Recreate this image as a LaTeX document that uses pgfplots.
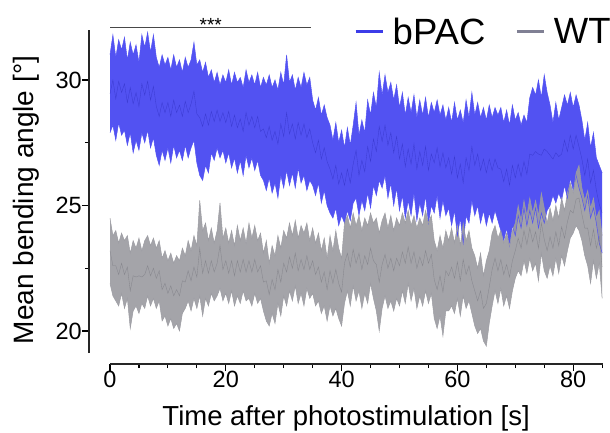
\documentclass[border=0pt]{standalone}
\usepackage{fontspec}
\setmainfont{Liberation Sans}
\usepackage{pgfplots}
\pgfplotsset{compat=1.18}
\usepgfplotslibrary{fillbetween}
\usepackage{pgfplotstable}

\definecolor{bpacband}{RGB}{82,82,242}
\definecolor{bpacmean}{RGB}{45,45,190}
\definecolor{wtband}{RGB}{156,156,162}
\definecolor{wtmean}{RGB}{115,115,122}
\definecolor{bpacleg}{RGB}{60,60,232}
\definecolor{wtleg}{RGB}{128,128,148}

% t, bPAC upper/lower, WT upper/lower (mean +- sem)
\pgfplotstableread{
t bu bl wu wl
0.0 31.0 27.9 24.5 21.9
0.5 31.8 28.2 23.8 21.4
1.0 30.9 27.6 24.0 21.2
1.5 31.6 28.3 23.5 21.0
2.0 31.2 27.8 23.9 21.5
2.5 31.7 28.0 23.6 20.9
3.0 30.8 27.4 23.8 21.3
3.5 31.5 27.9 23.1 20.1
4.0 31.0 27.1 23.6 20.8
4.5 31.4 27.6 23.3 21.0
5.0 30.7 27.2 23.7 20.7
5.5 31.8 27.9 23.2 21.1
6.0 31.3 27.5 23.6 20.9
6.5 31.9 28.0 23.8 21.4
7.0 31.1 27.3 23.4 21.0
7.5 31.8 27.7 23.7 21.3
8.0 30.9 27.0 23.3 20.9
8.5 30.5 26.6 23.6 21.2
9.0 31.0 27.2 22.9 20.4
9.5 30.6 26.8 23.2 20.6
10.0 30.9 27.3 22.8 20.2
10.5 30.4 26.7 23.1 20.5
11.0 31.0 27.4 22.7 20.1
11.5 30.5 26.9 23.0 20.3
12.0 30.8 27.2 22.8 20.0
12.5 30.3 26.8 23.3 20.7
13.0 30.9 27.4 23.0 20.9
13.5 30.5 26.9 23.6 21.2
14.0 30.8 27.3 23.2 20.8
14.5 31.5 27.6 23.8 21.3
15.0 30.6 26.7 23.4 20.9
15.5 30.8 26.2 25.2 21.4
16.0 30.3 26.0 24.0 20.6
16.5 30.7 26.6 24.3 21.3
17.0 30.1 26.3 23.6 21.0
17.5 30.4 27.1 24.1 21.5
18.0 29.9 26.8 23.5 21.2
18.5 30.3 27.3 24.0 21.4
19.0 29.8 26.9 25.1 21.7
19.5 30.2 27.2 23.7 21.2
20.0 29.9 26.7 24.1 21.5
20.5 30.4 27.1 23.5 21.1
21.0 29.8 26.5 24.0 21.6
21.5 30.3 26.9 23.4 21.0
22.0 29.9 26.3 24.2 21.4
22.5 30.1 26.8 23.6 21.1
23.0 29.7 26.2 24.1 21.6
23.5 30.4 27.0 23.5 21.2
24.0 29.9 26.5 24.3 21.3
24.5 30.2 26.9 23.7 21.0
25.0 29.8 26.4 24.2 21.5
25.5 30.3 26.8 23.6 21.1
26.0 29.7 26.2 23.9 21.3
26.5 30.1 26.0 23.1 20.8
27.0 29.8 25.6 23.6 20.4
27.5 30.2 26.1 22.7 20.2
28.0 29.7 25.5 23.4 20.7
28.5 30.0 25.9 23.0 20.3
29.0 29.6 25.3 23.8 21.1
29.5 30.3 26.2 23.3 20.6
30.0 29.8 25.7 24.0 21.4
30.5 31.0 26.4 23.7 21.0
31.0 29.9 25.8 24.3 21.6
31.5 30.2 26.3 23.8 21.2
32.0 29.6 25.7 24.4 21.8
32.5 30.1 26.5 23.7 21.1
33.0 29.7 25.9 24.2 21.5
33.5 30.3 26.2 23.9 21.0
34.0 29.8 25.6 24.3 21.7
34.5 30.1 26.0 23.6 21.3
35.0 29.2 25.8 24.1 21.5
35.5 28.8 25.4 23.5 21.0
36.0 29.3 25.9 23.9 21.2
36.5 28.6 25.1 23.2 20.7
37.0 29.0 25.6 23.7 21.0
37.5 28.5 25.0 22.9 20.4
38.0 28.2 24.7 23.8 21.0
38.5 27.6 24.5 23.2 20.6
39.0 28.3 24.9 24.0 20.9
39.5 27.5 24.2 23.3 20.5
40.0 28.0 24.6 22.9 20.2
40.5 27.3 24.3 24.3 21.1
41.0 28.1 24.8 24.6 21.6
41.5 27.4 24.4 24.1 21.0
42.0 28.2 25.1 24.7 21.8
42.5 29.1 25.3 24.2 21.2
43.0 27.8 24.6 24.6 21.6
43.5 28.4 25.2 24.0 20.9
44.0 27.9 24.8 24.5 21.5
44.5 29.2 25.5 24.2 21.1
45.0 28.6 24.9 24.7 21.9
45.5 29.5 25.8 24.3 21.3
46.0 28.9 25.4 24.5 20.8
46.5 30.3 26.0 23.9 20.0
47.0 29.4 25.7 24.4 20.9
47.5 30.2 26.2 24.7 21.4
48.0 29.5 25.3 24.1 20.9
48.5 29.9 25.9 24.6 21.2
49.0 29.2 25.0 24.0 20.8
49.5 29.8 25.7 24.5 21.3
50.0 28.9 24.8 24.2 21.0
50.5 29.5 25.4 24.7 21.6
51.0 28.6 24.5 24.3 21.1
51.5 29.3 25.2 24.8 21.9
52.0 28.7 24.6 24.2 21.2
52.5 29.4 25.5 24.6 21.7
53.0 28.5 24.4 24.1 20.9
53.5 29.2 25.1 24.5 21.4
54.0 28.6 24.6 24.2 21.0
54.5 29.3 25.4 24.8 21.6
55.0 28.5 24.3 24.3 21.1
55.5 29.1 25.0 24.6 21.5
56.0 28.7 24.7 23.6 20.5
56.5 29.2 25.4 23.2 20.1
57.0 28.6 24.5 23.8 20.6
57.5 29.0 25.2 23.3 19.8
58.0 28.4 24.6 24.0 20.8
58.5 28.9 24.9 23.6 20.8
59.0 28.3 24.2 24.1 21.0
59.5 29.1 24.8 23.5 20.7
60.0 28.4 23.8 24.2 21.3
60.5 28.8 24.5 23.4 20.6
61.0 28.3 23.5 24.3 21.4
61.5 29.2 24.6 23.6 20.9
62.0 28.5 24.3 24.0 21.2
62.5 29.5 25.2 23.3 20.7
63.0 28.6 24.6 23.0 20.2
63.5 29.1 25.0 22.5 19.9
64.0 28.5 24.3 23.1 20.1
64.5 28.9 24.8 22.2 19.6
65.0 28.4 24.2 22.8 19.4
65.5 29.0 24.7 23.2 20.3
66.0 28.5 24.3 23.9 21.0
66.5 28.9 24.8 24.2 21.6
67.0 28.6 24.4 23.7 21.1
67.5 28.9 24.0 24.0 21.7
68.0 28.3 23.6 23.5 21.0
68.5 28.8 24.1 23.9 21.4
69.0 28.2 23.4 23.4 20.9
69.5 29.0 24.2 24.0 21.6
70.0 28.4 23.8 24.3 22.1
70.5 28.7 24.6 25.0 22.4
71.0 28.2 24.1 24.4 22.2
71.5 28.6 24.9 25.2 22.8
72.0 28.3 24.2 24.6 22.3
72.5 29.3 24.8 25.3 22.9
73.0 29.7 24.3 24.7 22.4
73.5 29.4 24.9 25.2 22.7
74.0 30.0 24.1 24.6 22.0
74.5 29.3 24.7 25.5 23.1
75.0 30.2 24.3 24.9 22.4
75.5 29.5 24.8 24.3 22.1
76.0 29.0 25.0 24.9 22.6
76.5 28.3 25.4 24.4 22.2
77.0 29.1 25.1 25.0 22.9
77.5 28.4 25.5 24.5 22.3
78.0 28.9 25.2 25.3 23.0
78.5 29.4 25.8 24.8 22.6
79.0 29.0 25.3 25.5 23.2
79.5 29.5 26.1 25.9 23.7
80.0 28.9 25.6 25.5 23.9
80.5 29.4 26.2 26.3 24.2
81.0 29.0 25.7 26.6 24.0
81.5 28.4 25.3 25.7 23.6
82.0 27.6 24.8 25.2 23.0
82.5 28.3 25.4 25.6 22.6
83.0 27.3 24.5 24.9 21.9
83.5 27.9 24.9 25.3 22.8
84.0 26.9 24.3 24.5 22.1
84.5 26.6 23.5 24.8 22.7
85.0 26.3 23.1 23.8 21.3
}\angles

\begin{document}
\begin{tikzpicture}
\begin{axis}[
    scale only axis,
    width=514.3pt, height=339.6pt,
    xmin=-3.627, xmax=85.2,
    ymin=18.685, ymax=32.215,
    clip=false,
    axis lines*=left,
    axis line style={draw=none},
    xtick={0,20,40,60,80},
    minor xtick={5,10,15,25,30,35,45,50,55,65,70,75,85},
    ytick={20,25,30},
    minor ytick={22.5,27.5},
    tick align=outside,
    major tick length=7pt,
    minor tick length=4pt,
    tick style={black, line width=1.1pt},
    /pgf/number format/assume math mode=true,
    ticklabel style={font=\fontsize{23.5}{27}\selectfont},
    xticklabel style={anchor=north, inner sep=0pt},
    yticklabel style={anchor=east, inner sep=0pt},
    xlabel={Time after photostimulation [s]},
    ylabel={Mean bending angle [°]},
    xlabel style={at={(axis description cs:0.5,-0.182)}, anchor=base,
        inner sep=0pt, font=\fontsize{27.5}{33}\selectfont},
    ylabel style={at={(axis description cs:-0.1478,0.483)}, anchor=north,
        inner sep=0pt, font=\fontsize{28}{34}\selectfont},
    legend columns=2,
    legend image code/.code={\draw[#1] (0pt,0pt) -- (27pt,0pt);},
    legend style={draw=none, fill=none, inner sep=0pt,
        nodes={inner sep=0pt},
        font=\fontsize{36.5}{42}\selectfont,
        at={(axis description cs:0.5153,0.978)}, anchor=west,
        /tikz/every odd column/.append style={column sep=8.5pt},
        /tikz/every even column/.append style={column sep=30pt}},
]

% bPAC band and mean
\addplot[name path=bu, draw=bpacband, line width=0.5pt, forget plot]
    table[x=t, y=bu] {\angles};
\addplot[name path=bl, draw=bpacband, line width=0.5pt, forget plot]
    table[x=t, y=bl] {\angles};
\addplot[bpacband, forget plot] fill between[of=bu and bl];
\addplot[bpacmean, line width=0.35pt, opacity=0.6, forget plot]
    table[x=t, y expr={(\thisrow{bu}+\thisrow{bl})/2}] {\angles};

% WT band and mean
\addplot[name path=wu, draw=wtband, line width=0.5pt, forget plot]
    table[x=t, y=wu] {\angles};
\addplot[name path=wl, draw=wtband, line width=0.5pt, forget plot]
    table[x=t, y=wl] {\angles};
\addplot[wtband, fill opacity=0.92, forget plot] fill between[of=wu and wl];
\addplot[wtmean, line width=0.35pt, opacity=0.6, forget plot]
    table[x=t, y expr={(\thisrow{wu}+\thisrow{wl})/2}] {\angles};

% legend
\addlegendimage{line width=3pt, bpacleg}
\addlegendentry{bPAC}
\addlegendimage{line width=3pt, wtleg}
\addlegendentry{WT}

% offset axis lines
\draw[line width=1.1pt, black!85] (axis cs:-3.627,19.12) -- (axis cs:-3.627,32.0);
\draw[line width=1.1pt, black!85] (axis cs:0,18.685) -- (axis cs:85.2,18.685);

% significance bar
\draw[line width=1.5pt, black!72] (axis cs:0,32.1) -- (axis cs:34.7,32.1);
\node[anchor=base, inner sep=0pt, font=\fontsize{19}{22}\selectfont]
    at (axis cs:17.4,31.95) {***};

\end{axis}
\pgfresetboundingbox
\path (-89pt,-68pt) rectangle (521pt,364pt);
\end{tikzpicture}
\end{document}
